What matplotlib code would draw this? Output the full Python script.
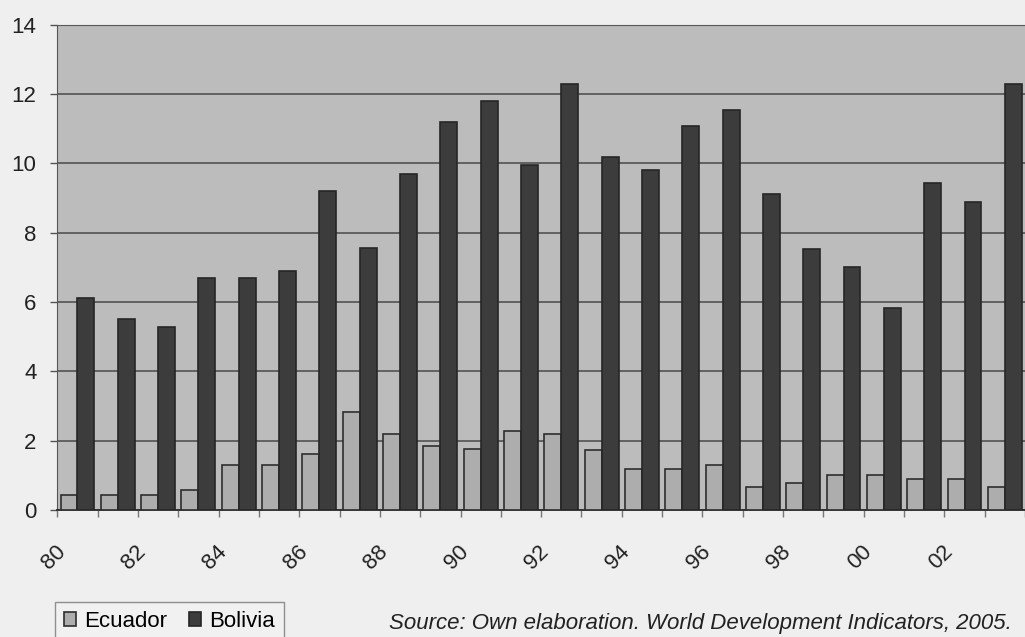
import numpy as np
import matplotlib
matplotlib.use("Agg")
import matplotlib.pyplot as plt
from matplotlib.transforms import ScaledTranslation

years = ["80", "81", "82", "83", "84", "85", "86", "87", "88", "89", "90", "91",
         "92", "93", "94", "95", "96", "97", "98", "99", "00", "01", "02", "03"]
ecuador = [0.42, 0.42, 0.42, 0.58, 1.31, 1.31, 1.62, 2.82, 2.19, 1.86, 1.77, 2.28,
           2.19, 1.72, 1.19, 1.19, 1.31, 0.67, 0.79, 1.00, 1.00, 0.89, 0.89, 0.67]
bolivia = [6.12, 5.50, 5.28, 6.69, 6.69, 6.90, 9.20, 7.57, 9.70, 11.18, 11.80, 9.94,
           12.28, 10.19, 9.82, 11.09, 11.53, 9.13, 7.53, 7.02, 5.82, 9.43, 8.89, 12.28]

plt.rcParams['font.family'] = ['Liberation Sans', 'DejaVu Sans']

fig = plt.figure(figsize=(10.25, 6.37), dpi=100, facecolor="#efefef")
# plot area: x 57..1025 px, y 24.7..510 px
ax = fig.add_axes([57.3 / 1025, 1 - 510 / 637, 1 - 57.3 / 1025, (510 - 24.7) / 637])
ax.set_facecolor("#bcbcbc")

x = np.arange(len(years))
w = 0.42
ax.bar(x - w / 2, ecuador, width=w, color="#adadad", edgecolor="#2e2e2e",
       linewidth=1.2, label="Ecuador", zorder=3)
ax.bar(x + w / 2, bolivia, width=w, color="#3c3c3c", edgecolor="#262626",
       linewidth=1.2, label="Bolivia", zorder=3)

ax.set_ylim(0, 14)
ax.set_xlim(-0.5, 23.31)
ax.set_yticks(range(0, 15, 2))
ax.yaxis.grid(True, color="#5a5a5a", linewidth=1.3, zorder=1)
ax.tick_params(axis="y", labelsize=16, length=5, width=1, color="#555555",
               pad=10, labelcolor="#222222")

# category labels every other year, rotated like the spreadsheet original
ax.set_xticks(x[::2])
ax.set_xticklabels(years[::2], rotation=45, ha="center", va="center",
                   fontsize=16, color="#222222")
ax.set_xticks(np.arange(-0.5, 24, 1), minor=True)
ax.tick_params(axis="x", which="major", length=0, pad=34)
ax.tick_params(axis="x", which="minor", length=5, width=1, color="#777777")
shift = ScaledTranslation(-24 / 100, 0, fig.dpi_scale_trans)
for lab in ax.get_xticklabels():
    lab.set_transform(lab.get_transform() + shift)

ax.spines["right"].set_visible(False)
ax.spines["top"].set_color("#5a5a5a")
ax.spines["left"].set_color("#555555")
ax.spines["bottom"].set_color("#333333")
ax.spines["bottom"].set_linewidth(1.4)

leg = fig.legend(loc="upper left", bbox_to_anchor=(55 / 1025, 1 - 602 / 637),
                 ncol=2, fontsize=16, frameon=True, fancybox=False,
                 handlelength=0.55, handleheight=0.55, handletextpad=0.35,
                 columnspacing=1.0, borderpad=0.4, borderaxespad=0)
leg.get_frame().set_edgecolor("#777777")
leg.get_frame().set_facecolor("#f2f2f2")
leg.get_frame().set_linewidth(1)

fig.text(1012 / 1025, 1 - 624 / 637,
         "Source: Own elaboration. World Development Indicators, 2005.",
         ha="right", va="center", fontsize=16, style="italic", color="#222222")

fig.savefig("out.png", dpi=100, facecolor=fig.get_facecolor())
